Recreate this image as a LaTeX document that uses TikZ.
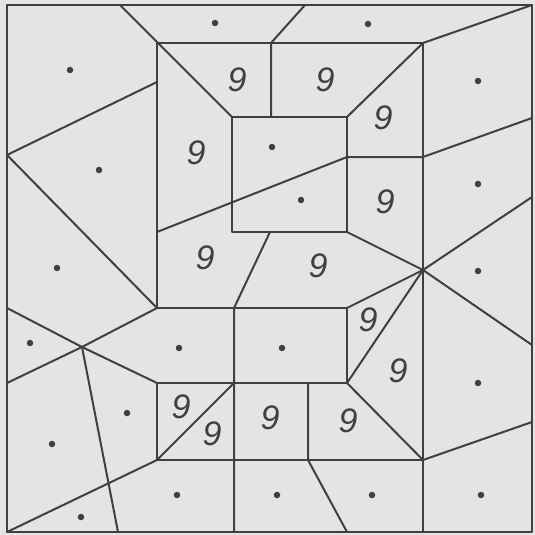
\documentclass[tikz,border=0pt]{standalone}
\usepackage{fontspec}
\setmainfont{Liberation Sans}
\usepackage{tikz}
\usetikzlibrary{calc}
\definecolor{paper}{RGB}{228,228,231}
\definecolor{ink}{RGB}{64,64,64}
\tikzset
{
  edge/.style={draw=ink,line width=2pt,line cap=round,line join=round},
  spot/.style={circle,fill=ink,inner sep=0pt,minimum size=6.5pt},
  nine/.style={text=ink,font=\fontsize{34}{34}\selectfont\itshape,inner sep=0pt}
}

\begin{document}
\begin{tikzpicture}[x=1pt,y=-1pt]
        % Background
        \fill[paper] (0,0) rectangle (535,535);
        \useasboundingbox (0,0) rectangle (535,535);

        % Frame and corners
        \coordinate (tl) at (7,5);
        \coordinate (tr) at (532,5);
        \coordinate (br) at (532,532);
        \coordinate (bl) at (7,532);
        \coordinate (ringa) at (157,43);
        \coordinate (ringb) at (423,43);
        \coordinate (hub) at (423,270);
        \coordinate (knot) at (82,347);
        \coordinate (lmid) at (7,155);

        \draw[edge] (tl) rectangle (br);

        % Outer ring
        \draw[edge] (ringa) -- (ringb) -- (423,532);
        \draw[edge] (ringa) -- (157,308) -- (347,308) -- (347,383) -- (157,383) -- (157,460) -- (423,460);

        % Inner square
        \draw[edge] (232,117) rectangle (347,232);

        % Top part
        \draw[edge] (120,5) -- (232,117);
        \draw[edge] (305,5) -- (271,43) -- (271,117);
        \draw[edge] (tr) -- (ringb) -- (347,117);
        \draw[edge] (347,157) -- (423,157) -- (532,118);
        \draw[edge] (157,232) -- (347,157);

        % Lines from the hub
        \draw[edge] (347,232) -- (hub) -- (532,197);
        \draw[edge] (347,308) -- (hub) -- (532,345);
        \draw[edge] (347,383) -- (hub);
        \draw[edge] (270,232) -- (234,308) -- (234,532);

        % Left part
        \draw[edge] (157,82) -- (lmid) -- (157,308);
        \draw[edge] (157,308) -- (knot) -- (157,383);
        \draw[edge] (7,308) -- (knot) -- (7,383);
        \draw[edge] (knot) -- (118,532);
        \draw[edge] (157,460) -- (bl);

        % Bottom part
        \draw[edge] (157,460) -- (234,383);
        \draw[edge] (308,383) -- (308,460) -- (347,532);
        \draw[edge] (347,383) -- (423,460) -- (532,422);

        % Dots
        \foreach \x/\y [count=\i] in {215/23,368/24,70/70,478/81,99/170,272/147,
          301/200,478/184,57/268,478/271,30/343,179/348,282/348,127/413,
          478/383,52/444,81/517,177/495,277/495,372/495,481/495}
          \node[spot] (dot\i) at (\x,\y) {};

        % Nines
        \foreach \x/\y [count=\i] in {237/80,325/80,383/118,196/153,385/202,
          205/258,318/266,368/320,398/371,181/407,212/434,270/418,348/421}
          \node[nine] (nine\i) at (\x,\y) {9};
\end{tikzpicture}
\end{document}
